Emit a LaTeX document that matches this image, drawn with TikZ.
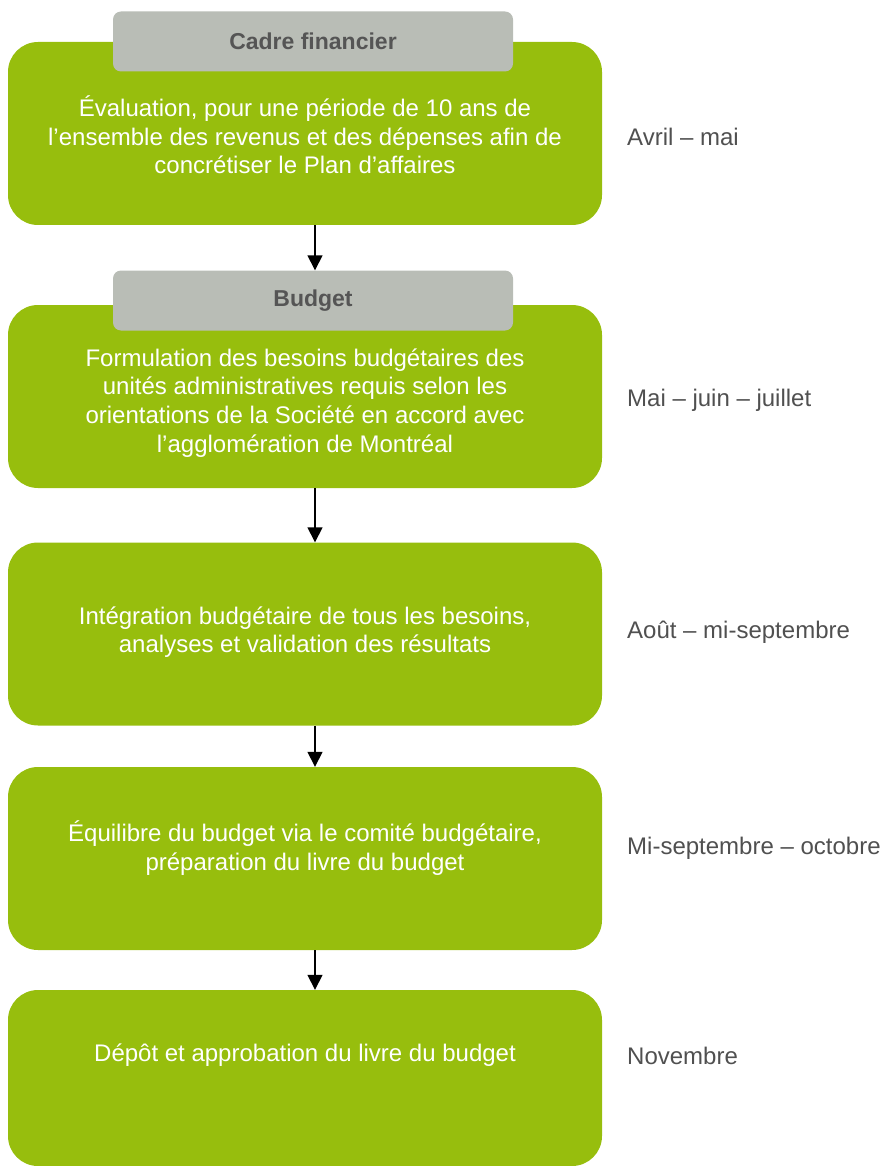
\documentclass[tikz,border=0pt]{standalone}
\usepackage{fontspec}
\setmainfont{Liberation Sans}
\usetikzlibrary{arrows.meta,positioning}
\definecolor{StepGreen}{HTML}{97BE0D}
\definecolor{TabGrey}{HTML}{B9BDB6}
\definecolor{TabText}{HTML}{555555}
\definecolor{DateText}{HTML}{505050}
\tikzset{>={Triangle[width=15pt,length=15pt]},
 every node/.style={font=\fontsize{24}{28.7}\selectfont},
 stepbox/.style={fill=StepGreen,rounded corners=30pt,minimum width=594pt,
 minimum height=183pt,inner sep=0pt},
 steptext/.style={text=white,align=center},
 tabbox/.style={fill=TabGrey,rounded corners=8pt,minimum width=400pt,
 minimum height=60pt,inner sep=0pt,text=TabText,font=\fontsize{23}{26}\selectfont\bfseries},
 datetext/.style={anchor=west,inner sep=0pt,text=DateText},
 flow/.style={->,line width=1.5pt}}
\begin{document}
\begin{tikzpicture}[x=1pt,y=-1pt]
\useasboundingbox (0,0) rectangle (882,1166);
% boxes
\node[stepbox] (box1) at (305,133.5) {};
\node[stepbox] (box2) at (305,396.5) {};
\node[stepbox] (box3) at (305,634) {};
\node[stepbox] (box4) at (305,858.5) {};
\node[stepbox,minimum height=176pt] (box5) at (305,1078) {};
% tabs
\node[tabbox] (tab1) at (313,41.5) {Cadre financier};
\node[tabbox] (tab2) at (313,300.5) {Budget};
% texts
\node[steptext] (t1) at (305,135) {Évaluation, pour une période de 10 ans de\\
 l’ensemble des revenus et des dépenses afin de\\ concrétiser le Plan d’affaires};
\node[steptext] (t2) at (305,403) {Formulation des besoins budgétaires des\\
 unités administratives requis selon les\\ orientations de la Société en accord avec\\
 l’agglomération de Montréal};
\node[steptext] (t3) at (305,632) {Intégration budgétaire de tous les besoins,\\
 analyses et validation des résultats};
\node[steptext] (t4) at (305,848) {Équilibre du budget via le comité budgétaire,\\
 préparation du livre du budget};
\node[steptext] (t5) at (305,1055) {Dépôt et approbation du livre du budget};
% dates
\node[datetext] (d1) at (627,137) {Avril – mai};
\node[datetext] (d2) at (627,400) {Mai – juin – juillet};
\node[datetext] (d3) at (627,632) {Août – mi-septembre};
\node[datetext] (d4) at (627,848) {Mi-septembre – octobre};
\node[datetext] (d5) at (627,1056) {Novembre};
% arrows
\draw[flow] (box1.south -| 315,0) -- (tab2.north -| 315,0);
\draw[flow] (box2.south -| 315,0) -- (box3.north -| 315,0);
\draw[flow] (box3.south -| 315,0) -- (box4.north -| 315,0);
\draw[flow] (box4.south -| 315,0) -- (box5.north -| 315,0);
\end{tikzpicture}
\end{document}
